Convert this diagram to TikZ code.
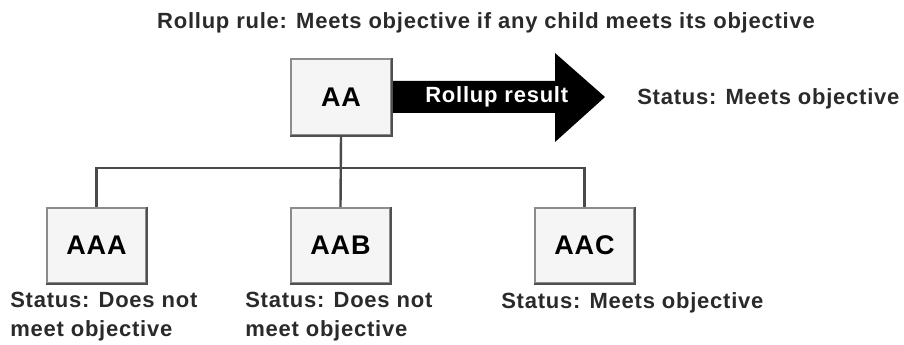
\documentclass[tikz,border=0pt]{standalone}
\usepackage{fontspec}
\setmainfont{Liberation Sans}[LetterSpace=3.5]
\definecolor{boxfill}{HTML}{F5F5F5}
\definecolor{boxedge}{HTML}{8C8C8C}
\definecolor{boxshade}{HTML}{505050}
\definecolor{wire}{HTML}{4A4A4A}
\definecolor{ink}{HTML}{2A2A2A}
\tikzset{
  unitbox/.style={draw=boxedge, fill=boxfill, line width=1.5pt,
    minimum width=74.5pt, minimum height=56.5pt, inner sep=0pt,
    font=\fontsize{20.25pt}{24pt}\selectfont\bfseries},
  caption/.style={inner sep=0pt, text=ink, align=left,
    font=\fontsize{16.5pt}{21.75pt}\selectfont\bfseries},
  wireline/.style={draw=wire, line width=1.8pt},
}
\begin{document}
\begin{tikzpicture}[x=0.75pt, y=-0.75pt]
\useasboundingbox (0,0) rectangle (904,345);

% title
\node[caption, anchor=base] (title) at (486,29)
  {Rollup rule: Meets objective if any child meets its objective};

% big rollup arrow
\fill[black] (391,81) -- (555,81) -- (555,53) -- (605,97) -- (555,142)
  -- (555,113) -- (391,113) -- cycle;
\node[caption, text=white, anchor=base west] (rollup) at (425,103) {Rollup result};
\node[caption, anchor=base west] (topstatus) at (637,105) {Status: Meets objective};

% units
\node[unitbox] (AA)  at (341,97)    {AA};
\node[unitbox] (AAA) at (96.5,245.5)  {AAA};
\node[unitbox] (AAB) at (340.5,245.5) {AAB};
\node[unitbox] (AAC) at (584.5,245.5) {AAC};
\foreach \n in {AA,AAA,AAB,AAC}
  \draw[boxshade, line width=1.5pt] (\n.south west) -- (\n.south east) -- (\n.north east);

% tree connectors
\coordinate (bus) at (341,168);
\draw[wireline] (AA.south) -- (AAB.north);
\draw[wireline] (AAA.north) -- (AAA.north |- bus) -- (AAC.north |- bus) -- (AAC.north);

% child statuses (base anchor sits on the last line)
\node[caption, anchor=base west] (sA) at (10,337)  {Status: Does not\\meet objective};
\node[caption, anchor=base west] (sB) at (245,337) {Status: Does not\\meet objective};
\node[caption, anchor=base west] (sC) at (501,309) {Status: Meets objective};
\end{tikzpicture}
\end{document}
